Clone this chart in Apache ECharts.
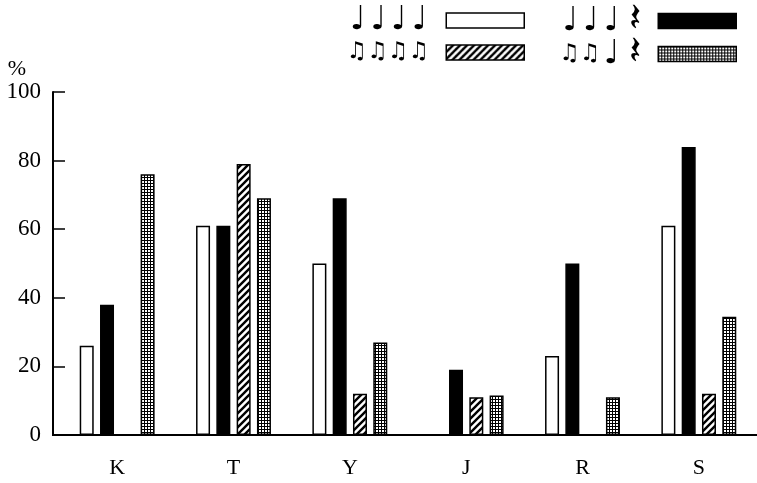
<!DOCTYPE html>
<html><head><meta charset="utf-8">
<script src="https://cdn.jsdelivr.net/npm/echarts@6/dist/echarts.min.js"></script>
<style>html,body{margin:0;padding:0;background:#fff}#c{width:757px;height:483px}</style>
</head><body><div id="c"></div>
<script>
const categories = ['K','T','Y','J','R','S'];
const seriesNames = ['♩♩♩♩', '♩♩♩𝄽', '♫♫♫♫', '♫♫♩𝄽'];
const quarters = [26, 61, 50, null, 23, 61];
const quartersRest = [38, 61, 69, 19, 50, 84];
const eighths = [null, 79, 12, 11, null, 12];
const eighthsRest = [76, 69, 27, 11.5, 11, 34.5];
const yTicks = [0, 20, 40, 60, 80, 100];

function hatchPattern(){
  const s = 7;
  const c = document.createElement('canvas'); c.width = s; c.height = s;
  const g = c.getContext('2d');
  g.fillStyle = '#fff'; g.fillRect(0,0,s,s);
  g.strokeStyle = '#000'; g.lineWidth = 2.4;
  g.beginPath();
  g.moveTo(-s/2,s/2); g.lineTo(s/2,-s/2);
  g.moveTo(0,s); g.lineTo(s,0);
  g.moveTo(s/2,s*1.5); g.lineTo(s*1.5,s/2);
  g.stroke();
  return {image: c, repeat: 'repeat'};
}
function gridPattern(){
  const c = document.createElement('canvas'); c.width = 3; c.height = 3;
  const g = c.getContext('2d');
  g.fillStyle = '#000'; g.fillRect(0,0,3,3);
  g.fillStyle = '#fff'; g.fillRect(1,1,2,2);
  return {image: c, repeat: 'repeat'};
}
const fills = ['#ffffff', '#000000', hatchPattern(), gridPattern()];
const values = [quarters, quartersRest, eighths, eighthsRest];

function richName(name){
  let out = '';
  for (const ch of name) {
    if (ch === '♩') out += '{q|♩}';
    else if (ch === '♫') out += '{e|♫}';
    else out += '{r|' + ch + '}';
  }
  return out;
}

const chart = echarts.init(document.getElementById('c'), null, {renderer:'canvas'});
const noteFont = 'DejaVu Sans';
const legendPos = [
  {right: 227, top: -1},
  {right: 15, top: -4},
  {right: 227, top: 36},
  {right: 15, top: 29}
];
const option = {
  animation: false,
  backgroundColor: '#fff',
  grid: {left: 59, right: 0, top: 92, bottom: 48, containLabel: false},
  legend: seriesNames.map((n, i) => ({
    data: [n], right: legendPos[i].right, top: legendPos[i].top,
    icon: 'rect', itemWidth: 78, itemHeight: 15, selectedMode: false,
    align: 'right', formatter: richName,
    itemStyle: {borderColor: '#000', borderWidth: 1.5},
    textStyle: {color: '#000', padding: [0, 12, 0, 0], lineHeight: 15,
      rich: {
        q: {fontFamily: noteFont, fontSize: 33, lineHeight: 15, padding: [0, 2, 0, 3], color: '#000'},
        e: {fontFamily: noteFont, fontSize: 23, lineHeight: 15, color: '#000'},
        r: {fontFamily: noteFont, fontSize: 40, lineHeight: 15, padding: [0, 0, 0, 8], color: '#000'}
      }}
  })),
  xAxis: {
    type: 'category', data: categories,
    axisLine: {lineStyle: {color: '#000', width: 2}},
    axisTick: {show: false},
    axisLabel: {color: '#000', fontFamily: 'Liberation Serif', fontSize: 22, margin: 22}
  },
  yAxis: {
    type: 'value', min: 0, max: 100, interval: 20, offset: 6,
    name: '%', nameLocation: 'end', nameGap: 7,
    nameTextStyle: {color: '#000', fontFamily: 'Liberation Serif', fontSize: 22, align: 'right', padding: [0, 27, 0, 0]},
    axisLine: {show: true, lineStyle: {color: '#000', width: 2}},
    axisTick: {show: true, inside: true, length: 12, lineStyle: {color: '#000', width: 1.5}},
    splitLine: {show: false},
    axisLabel: {color: '#000', fontFamily: 'Liberation Serif', fontSize: 23, margin: 12,
      formatter: v => yTicks.includes(v) ? String(v) : ''}
  },
  graphic: [{type: 'line', shape: {x1: 52, y1: 435, x2: 61, y2: 435}, style: {stroke: '#000', lineWidth: 2}}],
  series: seriesNames.map((n, i) => ({
    name: n, type: 'bar', data: values[i],
    barWidth: 14, barGap: '45%', barCategoryGap: '37%',
    itemStyle: {color: fills[i], borderColor: '#000', borderWidth: 1.5}
  }))
};
chart.setOption(option);
</script></body></html>
